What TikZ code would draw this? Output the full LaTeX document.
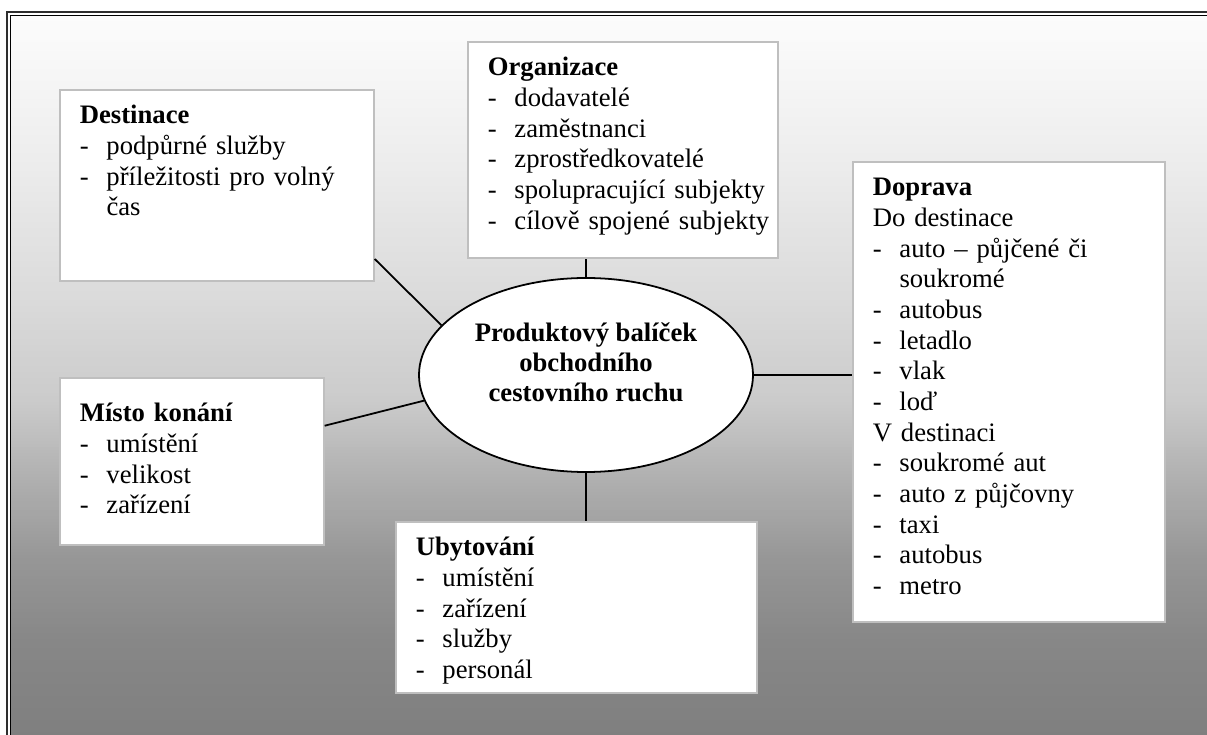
\documentclass[tikz,border=0pt]{standalone}
\usepackage{fontspec}
\setmainfont{Liberation Serif}
\usetikzlibrary{shapes.geometric}
\definecolor{boxgray}{gray}{0.75}
\definecolor{framecol}{gray}{0.18}
\newcommand\bitem[1]{\par\noindent\makebox[12pt][l]{-}\mbox{#1}}
\newcommand\bcont[1]{\par\noindent\hspace*{12pt}\mbox{#1}}
\newcommand\bline[1]{\par\noindent\mbox{#1}}
\begin{document}
\begin{tikzpicture}[x=0.45pt,y=-0.45pt,
  box/.style={draw=boxgray, line width=0.75pt, fill=white, anchor=north west,
    inner xsep=9pt, inner ysep=0pt, align=left,
    font=\fontsize{12}{13.8}\selectfont},
  conn/.style={line width=0.8pt, draw=black}]
\path[use as bounding box, clip] (0,0) rectangle (1207,735);
\fill[white] (0,0) rectangle (1207,735);
% background gradient as thin strips
\foreach \yy in {15,18,...,735} {
  \pgfmathsetmacro\g{\yy<150 ? 0.988+(0.933-0.988)*(\yy-16)/134 :
    (\yy<300 ? 0.933+(0.855-0.933)*(\yy-150)/150 :
    (\yy<400 ? 0.855+(0.796-0.855)*(\yy-300)/100 :
    (\yy<480 ? 0.796+(0.686-0.796)*(\yy-400)/80 :
    (\yy<560 ? 0.686+(0.588-0.686)*(\yy-480)/80 :
    (\yy<640 ? 0.588+(0.53-0.588)*(\yy-560)/80 :
    0.53+(0.498-0.53)*(\yy-640)/95)))))}
  \definecolor{stripc}{gray}{\g}
  \fill[stripc] (10.5,\yy) rectangle (1207,\yy+3.4);
}
\draw[line width=0.9pt, draw=framecol] (7,735) -- (7,12) -- (1207,12);
\draw[line width=0.45pt, draw=black] (10.5,735) -- (10.5,15.5) -- (1207,15.5);

\node[box, text width=123.3pt, text height=15.3pt, text depth=70.65pt] (dest) at (59,89)
  {\textbf{Destinace}\bitem{podpůrné služby}\bitem{příležitosti pro volný}\bcont{čas}};
\node[box, text width=121.5pt, text height=15.3pt, text depth=81.9pt] (org) at (467,41)
  {\textbf{Organizace}\bitem{dodavatelé}\bitem{zaměstnanci}\bitem{zprostředkovatelé}\bitem{spolupracující subjekty}\bitem{cílově spojené subjekty}};
\node[box, text width=122.4pt, text height=15.3pt, text depth=191.7pt] (dop) at (852,161)
  {\textbf{Doprava}\bline{Do destinace}\bitem{auto – půjčené či}\bcont{soukromé}\bitem{autobus}\bitem{letadlo}\bitem{vlak}\bitem{loď}\bline{V destinaci}\bitem{soukromé aut}\bitem{auto z půjčovny}\bitem{taxi}\bitem{autobus}\bitem{metro}};
\node[box, text width=100.8pt, text height=19.8pt, text depth=55.35pt] (mis) at (59,377)
  {\textbf{Místo konání}\bitem{umístění}\bitem{velikost}\bitem{zařízení}};
\node[box, text width=144.45pt, text height=15.3pt, text depth=61.65pt] (ub) at (395,521)
  {\textbf{Ubytování}\bitem{umístění}\bitem{zařízení}\bitem{služby}\bitem{personál}};

\node[ellipse, draw=black, line width=0.8pt, fill=white, minimum width=150.3pt, minimum height=87.3pt,
  inner sep=0pt, text height=10pt, text depth=39.7pt,
  font=\fontsize{12}{13.3}\selectfont\bfseries] (ell) at (586,375)
  {\begin{tabular}[t]{@{}c@{}}Produktový balíček\\obchodního\\cestovního ruchu\end{tabular}};

\draw[conn] (dest.-25) -- (ell.161);
\draw[conn] (mis.15) -- (ell.189);
\draw[conn] (ell.north) -- (ell.north |- org.south);
\draw[conn] (ell.south) -- (ell.south |- ub.north);
\draw[conn] (ell.east) -- (ell.east -| dop.west);
\end{tikzpicture}
\end{document}
